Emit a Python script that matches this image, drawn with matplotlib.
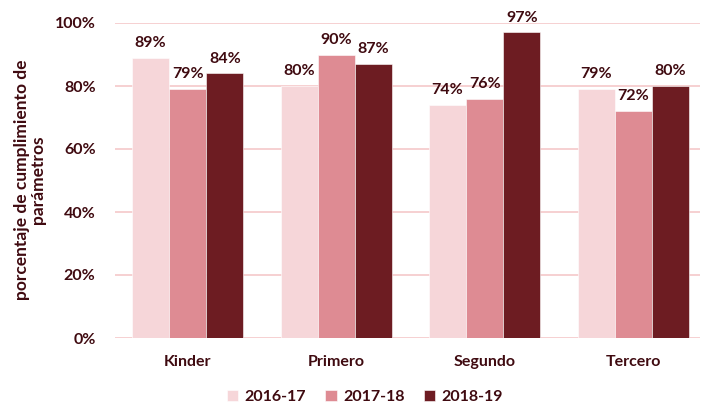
import matplotlib.pyplot as plt
import numpy as np

categories = ['Kinder', 'Primero', 'Segundo', 'Tercero']
series = ['2016-17', '2017-18', '2018-19']
v_2016 = [89, 80, 74, 79]
v_2017 = [79, 90, 76, 72]
v_2018 = [84, 87, 97, 80]
colors = ['#F6D6D9', '#DE8B93', '#6D1C22']
text_color = '#3F0A10'

plt.rcParams['font.family'] = ['Lato', 'DejaVu Sans']
plt.rcParams['font.weight'] = 'bold'

fig = plt.figure(figsize=(7.08, 4.05), dpi=100)
ax = fig.add_axes([115 / 708, 1 - 338 / 405, 585 / 708, 315 / 405])

x = np.arange(len(categories))
w = 0.25
for i, (vals, c) in enumerate(zip([v_2016, v_2017, v_2018], colors)):
    pos = x + (i - 1) * w
    ax.bar(pos, vals, width=w, color=c, label=series[i], zorder=3,
           edgecolor='white', linewidth=0.4)
    for p, v in zip(pos, vals):
        ax.text(p, v + 2.5, f'{v}%', ha='center', va='bottom', fontsize=11.5,
                fontweight='bold', color=text_color)

ax.set_ylim(0, 100)
ax.set_xlim(-0.49, 3.45)
ax.set_yticks(range(0, 101, 20))
ax.set_yticklabels([f'{t}%' for t in range(0, 101, 20)])
ax.set_xticks(x)
ax.set_xticklabels(categories)
ax.grid(axis='y', color='#F5C8CA', linewidth=1.2, zorder=0)
ax.tick_params(axis='both', length=0, labelsize=11.5, colors=text_color)
ax.tick_params(axis='y', pad=14)
ax.tick_params(axis='x', pad=12)
for lab in ax.get_xticklabels() + ax.get_yticklabels():
    lab.set_fontweight('bold')
for s in ax.spines.values():
    s.set_visible(False)

fig.text(0.043, 0.556, 'porcentaje de cumplimiento de\nparámetros', rotation=90,
         ha='center', va='center', fontsize=12.5, fontweight='bold',
         color=text_color, linespacing=1.0)

leg = fig.legend(loc='center', bbox_to_anchor=(365 / 708, 1 - 397 / 405), ncol=3,
                 frameon=False, fontsize=11.5, handlelength=0.7, handleheight=0.7,
                 columnspacing=1.2, handletextpad=0.4)
for t in leg.get_texts():
    t.set_color(text_color)
    t.set_fontweight('bold')

fig.savefig('out.png', dpi=100)
